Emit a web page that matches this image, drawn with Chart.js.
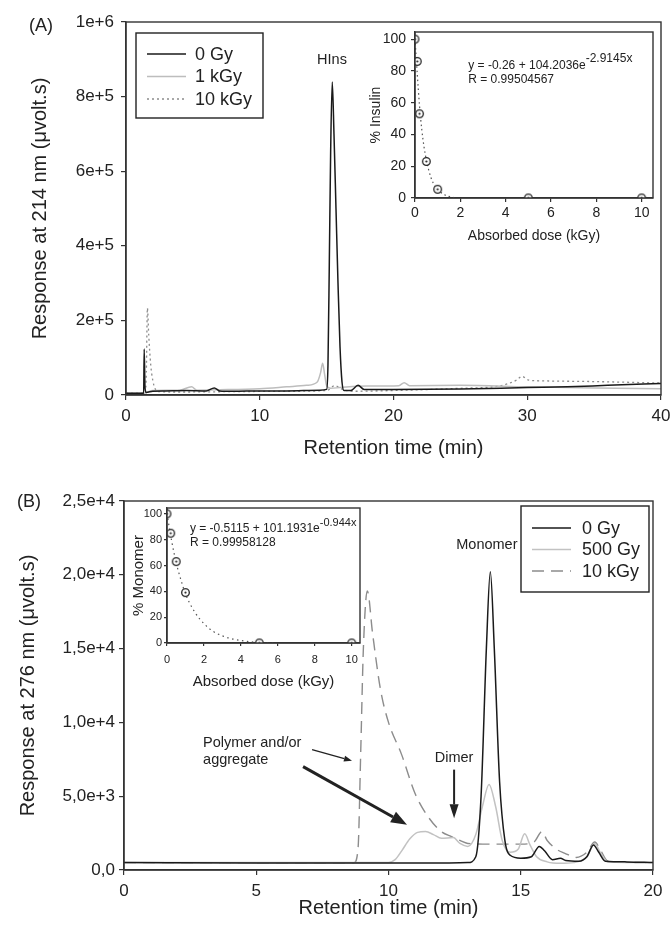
<!DOCTYPE html>
<html lang="en">
<head>
<meta charset="UTF-8">
<title>HPLC chromatograms after irradiation</title>
<style>
  * { margin: 0; padding: 0; box-sizing: border-box; }
  body { width: 670px; height: 927px; background: #fff; position: relative; overflow: hidden; }
  .box { position: absolute; }
</style>
</head>
<body>
<div class="box" style="left:0;top:0;width:670px;height:465px"><canvas id="mainA"></canvas></div>
<div class="box" style="left:360px;top:25px;width:300px;height:225px"><canvas id="insetA"></canvas></div>
<div class="box" style="left:0;top:465px;width:670px;height:462px"><canvas id="mainB"></canvas></div>
<div class="box" style="left:120px;top:500px;width:250px;height:195px"><canvas id="insetB"></canvas></div>

<script src="https://cdn.jsdelivr.net/npm/chart.js"></script>
<script>
// ---- Panel A: insulin at 214 nm ----
const timeA0 = [0, 1.25, 1.32, 1.36, 1.42, 1.5, 2.0, 3.0, 4.5, 6.0, 6.6, 7.0, 8.0, 10.0, 12.0, 14.5, 15.0, 15.1, 15.2, 15.3, 15.42, 15.55, 15.7, 15.85, 16.0, 16.15, 16.3, 16.8, 17.35, 17.8, 20, 25, 30, 33, 36, 40];
const respA0 = [5000, 5000, 4000, 123000, 20000, 7000, 10000, 11000, 12000, 11000, 19000, 11000, 10000, 11000, 11000, 13000, 15000, 80000, 350000, 650000, 839000, 700000, 500000, 300000, 130000, 35000, 12000, 12000, 26000, 15000, 15000, 16000, 20000, 22000, 26000, 31000];
const timeA1 = [0, 1.4, 1.6, 2.0, 4.0, 4.9, 5.3, 7, 10, 12, 13.5, 14.3, 14.55, 14.7, 14.85, 15.0, 15.3, 16, 18, 20.4, 20.8, 21.2, 25, 30, 35, 40];
const respA1 = [5000, 5000, 8000, 12000, 13000, 22000, 13000, 14000, 17000, 22000, 26000, 35000, 60000, 85000, 55000, 25000, 18000, 20000, 24000, 25000, 33000, 25000, 26000, 22000, 19000, 17000];
const timeA10 = [0, 1.45, 1.52, 1.6, 1.7, 1.85, 2.0, 2.2, 2.5, 4, 8, 12, 15, 15.6, 16.2, 17, 20, 25, 28, 29.2, 29.6, 30.1, 31, 35, 40];
const respA10 = [5000, 5000, 60000, 233000, 160000, 80000, 40000, 15000, 9000, 8000, 9000, 10000, 12000, 25000, 15000, 10000, 12000, 18000, 25000, 40000, 50000, 40000, 38000, 36000, 32000];
const yTicksA = ['0', '2e+5', '4e+5', '6e+5', '8e+5', '1e+6'];

const doseA = [0, 0.1, 0.2, 0.5, 1, 5, 10];
const insulinPct = [100, 86, 53, 23, 5.5, 0, 0];
const fitDoseA = [0, 0.1, 0.2, 0.3, 0.4, 0.5, 0.7, 0.9, 1.1, 1.3, 1.5, 1.8];
const fitPctA = [100, 78, 58, 43, 32, 24, 13, 7, 4, 2, 1, 0];

// ---- Panel B: size exclusion at 276 nm ----
const timeB0 = [0, 5, 10, 12, 13.0, 13.3, 13.5, 13.7, 13.85, 14.0, 14.2, 14.4, 14.6, 15.0, 15.4, 15.7, 15.9, 16.2, 16.5, 16.7, 17.2, 17.5, 17.75, 17.95, 18.2, 19, 20];
const respB0 = [500, 480, 480, 480, 500, 900, 5000, 15000, 20200, 15000, 6000, 2000, 1000, 800, 900, 1600, 1300, 700, 800, 650, 600, 900, 1700, 1200, 600, 550, 500];
const timeB1 = [0, 5, 10.0, 10.25, 10.5, 10.8, 11.1, 11.4, 11.7, 12.0, 12.45, 12.7, 13.0, 13.3, 13.55, 13.8, 14.05, 14.3, 14.6, 14.9, 15.15, 15.35, 15.6, 16.0, 16.5, 17.0, 17.5, 17.8, 18.0, 18.3, 20];
const respB1 = [500, 500, 500, 700, 1300, 2100, 2550, 2600, 2400, 2150, 2200, 1800, 1600, 2400, 4300, 5800, 4300, 2000, 1200, 1400, 2450, 1700, 900, 550, 450, 500, 900, 1800, 1200, 550, 500];
const timeB10 = [0, 5, 8.7, 8.85, 8.95, 9.05, 9.2, 9.4, 9.7, 10.0, 10.5, 11.0, 11.5, 12.0, 12.4, 12.7, 13.0, 14.0, 15.0, 15.5, 15.8, 16.0, 16.4, 16.65, 17.1, 17.5, 17.8, 18.0, 18.3, 20];
const respB10 = [500, 500, 500, 1500, 8000, 15000, 18900, 16000, 12200, 10000, 7800, 5200, 3600, 2600, 2250, 2000, 1800, 1750, 1750, 1900, 2600, 2000, 1350, 1150, 850, 1200, 1900, 1400, 600, 500];
const yTicksB = ['0,0', '5,0e+3', '1,0e+4', '1,5e+4', '2,0e+4', '2,5e+4'];

const doseB = [0, 0.2, 0.5, 1, 5, 10];
const monomerPct = [100, 85, 63, 39, 0, 0];
const fitDoseB = [0, 0.25, 0.5, 0.75, 1, 1.5, 2, 2.5, 3, 3.5, 4, 4.5, 5, 5.8];
const fitPctB = [100, 79, 62, 49, 38, 24, 15, 9, 5.5, 3.3, 2, 1, 0.4, 0];

const FONT = '"Liberation Sans", Arial, Helvetica, sans-serif';
const INK = '#222';
Chart.defaults.font.family = FONT;
Chart.defaults.color = INK;
Chart.defaults.animation = false;

const pts = (xs, ys) => xs.map((x, i) => ({ x: x, y: ys[i] }));

// open circle with a dot, like the SigmaPlot marker
const marker = document.createElement('canvas');
marker.width = 11; marker.height = 11;
(function () {
  const c = marker.getContext('2d');
  c.fillStyle = '#fff'; c.strokeStyle = INK; c.lineWidth = 1.3;
  c.beginPath(); c.arc(5.5, 5.5, 3.8, 0, Math.PI * 2); c.fill(); c.stroke();
  c.fillStyle = INK;
  c.beginPath(); c.arc(5.5, 5.5, 1.1, 0, Math.PI * 2); c.fill();
})();

function axis(o) {
  return {
    type: 'linear', min: o.min, max: o.max,
    ticks: {
      stepSize: o.step, padding: o.pad, font: { size: o.tickSize }, color: INK,
      includeBounds: false, maxRotation: 0, autoSkip: false,
      callback: o.labels ? (v, i) => o.labels[i] : (v => v)
    },
    grid: { drawOnChartArea: false, drawTicks: true, tickLength: o.tl, color: '#333', lineWidth: 1.2 },
    border: { display: true, color: '#333', width: 1.4 },
    title: { display: true, text: o.title, font: { size: o.titleSize }, color: INK, padding: o.titlePad },
    afterBuildTicks: s => { s.ticks = s.ticks.filter(t => Math.abs(t.value / o.step - Math.round(t.value / o.step)) < 1e-6); },
    afterFit: s => {
      if (o.width) s.width = o.width;
      if (o.height) s.height = o.height;
      s.paddingLeft = s.paddingRight = s.paddingTop = s.paddingBottom = 0;
    }
  };
}

const framePlugin = {
  id: 'frame',
  afterDraw(chart) {
    const a = chart.chartArea, ctx = chart.ctx;
    ctx.save();
    ctx.strokeStyle = '#333'; ctx.lineWidth = 1.4;
    ctx.strokeRect(a.left, a.top, a.right - a.left, a.bottom - a.top);
    ctx.restore();
  }
};

function boxLegend(box) {
  return {
    id: 'boxLegend',
    afterDraw(chart) {
      const ctx = chart.ctx;
      ctx.save();
      ctx.strokeStyle = INK; ctx.lineWidth = 1.4;
      ctx.strokeRect(box.x, box.y, box.w, box.h);
      chart.data.datasets.forEach((ds, i) => {
        const y = box.y + box.first + i * box.gap;
        ctx.beginPath();
        ctx.strokeStyle = ds.borderColor; ctx.lineWidth = ds.borderWidth;
        ctx.setLineDash(ds.borderDash || []);
        ctx.moveTo(box.x + 11, y); ctx.lineTo(box.x + 50, y); ctx.stroke();
        ctx.setLineDash([]);
        ctx.fillStyle = INK; ctx.font = '18px ' + FONT; ctx.textBaseline = 'middle';
        ctx.fillText(ds.label, box.x + box.textX, y + 1);
      });
      ctx.restore();
    }
  };
}

function arrow(ctx, x1, y1, x2, y2, lw, hl, hw) {
  const ang = Math.atan2(y2 - y1, x2 - x1);
  const bx = x2 - Math.cos(ang) * hl, by = y2 - Math.sin(ang) * hl;
  ctx.lineWidth = lw;
  ctx.beginPath(); ctx.moveTo(x1, y1); ctx.lineTo(bx, by); ctx.stroke();
  ctx.beginPath();
  ctx.moveTo(x2, y2);
  ctx.lineTo(bx + Math.sin(ang) * hw / 2, by - Math.cos(ang) * hw / 2);
  ctx.lineTo(bx - Math.sin(ang) * hw / 2, by + Math.cos(ang) * hw / 2);
  ctx.closePath(); ctx.fill();
}

function lineSet(label, xs, ys, color, width, dash) {
  return {
    label: label, data: pts(xs, ys), borderColor: color, borderWidth: width,
    borderDash: dash || [], pointRadius: 0, fill: false, cubicInterpolationMode: 'monotone'
  };
}

function baseOptions(pad) {
  return {
    responsive: true, maintainAspectRatio: false, animation: false,
    layout: { padding: pad },
    plugins: { legend: { display: false }, tooltip: { enabled: false } }
  };
}

// ---------- Panel A main ----------
const optA = baseOptions({ top: 22, right: 9, left: 0, bottom: 0 });
optA.scales = {
  x: axis({ min: 0, max: 40, step: 10, pad: 6, tickSize: 17, tl: 5, title: 'Retention time (min)', titleSize: 20, titlePad: { bottom: 5 }, height: 70 }),
  y: axis({ min: 0, max: 1e6, step: 2e5, pad: 7, tickSize: 17, tl: 5, labels: yTicksA, title: 'Response at 214 nm (\u03bcvolt.s)', titleSize: 20, titlePad: { top: 28 }, width: 126 })
};
new Chart(document.getElementById('mainA'), {
  type: 'line',
  data: { datasets: [
    lineSet('0 Gy', timeA0, respA0, '#1a1a1a', 1.5),
    lineSet('1 kGy', timeA1, respA1, '#bdbdbd', 1.5),
    lineSet('10 kGy', timeA10, respA10, '#8c8c8c', 1.3, [2, 3])
  ]},
  options: optA,
  plugins: [framePlugin, boxLegend({ x: 136, y: 33, w: 127, h: 85, first: 21, gap: 22.5, textX: 59 }), {
    id: 'labelsA',
    afterDraw(chart) {
      const ctx = chart.ctx, sx = chart.scales.x, sy = chart.scales.y;
      ctx.save();
      ctx.fillStyle = INK; ctx.textAlign = 'center'; ctx.textBaseline = 'middle';
      ctx.font = '18px ' + FONT;
      ctx.fillText('(A)', 41, 26);
      ctx.font = '14.5px ' + FONT;
      ctx.fillText('HIns', sx.getPixelForValue(15.4), sy.getPixelForValue(898000));
      ctx.restore();
    }
  }]
});

// ---------- Panel A inset ----------
const optIA = baseOptions({ top: 7, right: 7, left: 0, bottom: 0 });
optIA.scales = {
  x: axis({ min: 0, max: 10.5, step: 2, pad: 3, tickSize: 14, tl: 4, title: 'Absorbed dose (kGy)', titleSize: 14, titlePad: { bottom: 5 }, height: 52 }),
  y: axis({ min: 0, max: 104.5, step: 20, pad: 5, tickSize: 14, tl: 4, title: '% Insulin', titleSize: 14, titlePad: { top: 8 }, width: 55 })
};
new Chart(document.getElementById('insetA'), {
  type: 'scatter',
  data: { datasets: [
    { data: pts(doseA, insulinPct), pointStyle: marker, pointRadius: 5 },
    { data: pts(fitDoseA, fitPctA), showLine: true, pointRadius: 0, borderColor: '#555', borderWidth: 1.2, borderDash: [1.5, 3], cubicInterpolationMode: 'monotone' }
  ]},
  options: optIA,
  plugins: [framePlugin, {
    id: 'eqA',
    afterDraw(chart) {
      const ctx = chart.ctx, sx = chart.scales.x, sy = chart.scales.y;
      const x = sx.getPixelForValue(2.35);
      ctx.save();
      ctx.fillStyle = INK; ctx.textBaseline = 'middle'; ctx.font = '12px ' + FONT;
      const base = 'y = -0.26 + 104.2036e';
      ctx.fillText(base, x, sy.getPixelForValue(83.6));
      ctx.fillText('-2.9145x', x + ctx.measureText(base).width, sy.getPixelForValue(83.6) - 7);
      ctx.fillText('R = 0.99504567', x, sy.getPixelForValue(74.2));
      ctx.restore();
    }
  }]
});

// ---------- Panel B main ----------
const optB = baseOptions({ top: 36, right: 17, left: 0, bottom: 0 });
optB.scales = {
  x: axis({ min: 0, max: 20, step: 5, pad: 6, tickSize: 17, tl: 5, title: 'Retention time (min)', titleSize: 20, titlePad: { bottom: 7 }, height: 57 }),
  y: axis({ min: 0, max: 25000, step: 5000, pad: 4, tickSize: 17, tl: 5, labels: yTicksB, title: 'Response at 276 nm (\u03bcvolt.s)', titleSize: 20, titlePad: { top: 16 }, width: 124 })
};
new Chart(document.getElementById('mainB'), {
  type: 'line',
  data: { datasets: [
    lineSet('0 Gy', timeB0, respB0, '#1a1a1a', 1.5),
    lineSet('500 Gy', timeB1, respB1, '#c2c2c2', 1.5),
    lineSet('10 kGy', timeB10, respB10, '#8c8c8c', 1.4, [12, 7])
  ]},
  options: optB,
  plugins: [framePlugin, boxLegend({ x: 521, y: 41, w: 128, h: 86, first: 22, gap: 21.5, textX: 61 }), {
    id: 'labelsB',
    afterDraw(chart) {
      const ctx = chart.ctx, sx = chart.scales.x, sy = chart.scales.y;
      const X = v => sx.getPixelForValue(v), Y = v => sy.getPixelForValue(v);
      ctx.save();
      ctx.fillStyle = INK; ctx.strokeStyle = INK; ctx.textBaseline = 'middle';
      ctx.font = '18px ' + FONT; ctx.textAlign = 'center';
      ctx.fillText('(B)', 29, 37);
      ctx.font = '14.5px ' + FONT;
      ctx.fillText('Monomer', X(13.72), Y(22000));
      ctx.fillText('Dimer', X(12.48), Y(7600));
      ctx.textAlign = 'left';
      ctx.fillText('Polymer and/or', X(2.99), Y(8630));
      ctx.fillText('aggregate', X(2.99), Y(7470));
      arrow(ctx, X(7.11), Y(8150), X(8.62), Y(7400), 1.3, 8, 6);
      arrow(ctx, X(6.77), Y(7000), X(10.70), Y(3060), 3, 16, 12);
      arrow(ctx, X(12.48), Y(6800), X(12.48), Y(3500), 2, 14, 9);
      ctx.restore();
    }
  }]
});

// ---------- Panel B inset ----------
const optIB = baseOptions({ top: 8, right: 10, left: 0, bottom: 0 });
optIB.scales = {
  x: axis({ min: 0, max: 10.45, step: 2, pad: 7, tickSize: 11, tl: 3, title: 'Absorbed dose (kGy)', titleSize: 15, titlePad: { bottom: 4 }, height: 52 }),
  y: axis({ min: 0, max: 104.5, step: 20, pad: 2, tickSize: 11, tl: 3, title: '% Monomer', titleSize: 15, titlePad: { top: 10 }, width: 47 })
};
new Chart(document.getElementById('insetB'), {
  type: 'scatter',
  data: { datasets: [
    { data: pts(doseB, monomerPct), pointStyle: marker, pointRadius: 5 },
    { data: pts(fitDoseB, fitPctB), showLine: true, pointRadius: 0, borderColor: '#555', borderWidth: 1.2, borderDash: [1.5, 3.5], cubicInterpolationMode: 'monotone' }
  ]},
  options: optIB,
  plugins: [framePlugin, {
    id: 'eqB',
    afterDraw(chart) {
      const ctx = chart.ctx, sx = chart.scales.x, sy = chart.scales.y;
      const x = sx.getPixelForValue(1.24);
      ctx.save();
      ctx.fillStyle = INK; ctx.textBaseline = 'middle'; ctx.font = '12px ' + FONT;
      const base = 'y = -0.5115 + 101.1931e';
      const w = ctx.measureText(base).width;
      ctx.fillText(base, x, sy.getPixelForValue(88.4));
      ctx.font = '11px ' + FONT;
      ctx.fillText('-0.944x', x + w, sy.getPixelForValue(88.4) - 6);
      ctx.font = '12px ' + FONT;
      ctx.fillText('R = 0.99958128', x, sy.getPixelForValue(77.5));
      ctx.restore();
    }
  }]
});
</script>
</body>
</html>
